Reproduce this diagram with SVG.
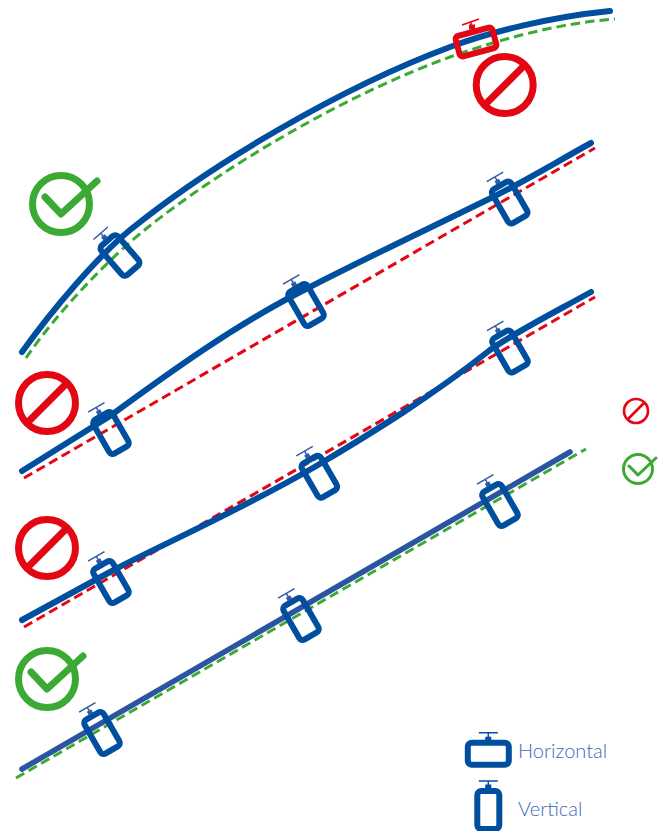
<svg xmlns="http://www.w3.org/2000/svg" width="668" height="831" viewBox="0 0 668 831">
<style>
.pipe{fill:none;stroke:#004f9f;stroke-width:6;stroke-linecap:round}
.pipe2{fill:none;stroke:#2b55a0;stroke-width:5.5;stroke-linecap:round}
.gd{fill:none;stroke:#3aaa35;stroke-width:3;stroke-dasharray:9.500 5}
.rd{fill:none;stroke:#e30613;stroke-width:3;stroke-dasharray:9.500 5}
.box{fill:none;stroke:#004f9f;stroke-width:6}
.hd{fill:#2f5aa5;stroke:#2f5aa5}
.hl{fill:#004f9f;stroke:#004f9f}
.red .box{stroke:#e30613;stroke-width:6}
.red .hd{fill:#e30613;stroke:#e30613}
.ban{fill:none;stroke:#e30613;stroke-width:7}
.ok{fill:none;stroke:#3aaa35;stroke-width:7;stroke-linecap:round;stroke-linejoin:round}
.smb{fill:none;stroke:#e30613;stroke-width:2.600}
.smo{fill:none;stroke:#3aaa35;stroke-width:3;stroke-linecap:round;stroke-linejoin:round}
text{font-family:Lato,"Liberation Sans",sans-serif;font-size:20px;font-weight:300;fill:#3f68b5}
</style>
<defs>
<g id="v"><rect class="box" x="-11" y="-19.500" width="22" height="39" rx="4"/><rect class="hd" x="-2" y="-25.500" width="4" height="3" stroke-width="1"/><path class="hd" d="M0-29.500V-22M-9.500-29.500H9.500" fill="none" stroke-width="1.500"/></g>
<g id="vL"><rect class="box" x="-11" y="-19" width="22" height="38" rx="4"/><rect class="hl" x="-2.500" y="-25" width="5" height="3" stroke-width="1"/><path class="hl" d="M0-29V-22M-9.500-29H9.500" fill="none" stroke-width="1.500"/></g>
<g id="hL"><rect class="box" x="-20.500" y="-11" width="41" height="22" rx="4"/><rect class="hl" x="-2.500" y="-16.500" width="5" height="3" stroke-width="1"/><path class="hl" d="M0-21V-14M-9.500-21H9.500" fill="none" stroke-width="1.500"/></g>
<g id="banI"><circle class="ban" r="28.500"/><path class="ban" d="M-19 19L19-19"/></g>
<g id="okI"><circle class="ok" r="28.500"/><path class="ok" d="M-16-7L0 10L36-23"/></g>
</defs>
<g id="connectors">
<path class="gd" d="M26 358C55 315 108 259 147 228C225 166 345 95 450 57C500 39 560 23 615 19"/>
<path class="pipe" d="M22 352C52 310 98 256 130 230C210 165 340 88 450 47C490 32 550 17 610 11"/>
<path class="rd" d="M24 478L595 148"/>
<path class="pipe" d="M22 471L110 416C170 372 235 325 306 289C366 258 430 228 493 197C527 180 560 160 591 143"/>
<path class="rd" d="M24 627L595 297"/>
<path class="pipe" d="M22 620L110 572C150 550 250 506 323 462C375 431 432 396 490 350C512 334 555 312 591 292"/>
<path class="gd" d="M16 778L586 449"/>
<path class="pipe2" d="M22 769L570 452"/>
</g>
<g id="valve1"><use href="#v" transform="translate(120 255.500) rotate(-41)"/></g>
<g id="valve2" class="red"><rect class="box" x="-19" y="-10.500" width="38" height="21" rx="3" transform="translate(476 42) rotate(-15)"/><rect class="hd" x="469.500" y="25" width="5" height="4" stroke-width="1"/><path class="hd" d="M462 25L479 19M471 22V28" fill="none" stroke-width="1.600"/></g>
<g id="valve3"><use href="#v" transform="translate(509.700 202.500) rotate(-30)"/></g>
<g id="valve4"><use href="#v" transform="translate(306 305) rotate(-30)"/></g>
<g id="valve5"><use href="#v" transform="translate(111 433) rotate(-30)"/></g>
<g id="valve6"><use href="#v" transform="translate(510 351.500) rotate(-30)"/></g>
<g id="valve7"><use href="#v" transform="translate(319.300 476.700) rotate(-30)"/></g>
<g id="valve8"><use href="#v" transform="translate(111 582) rotate(-30)"/></g>
<g id="valve9"><use href="#v" transform="translate(500 505) rotate(-30)"/></g>
<g id="valve10"><use href="#v" transform="translate(301 619) rotate(-30)"/></g>
<g id="valve11"><use href="#v" transform="translate(102 733) rotate(-30)"/></g>
<g id="ban1"><use href="#banI" x="504.700" y="85"/></g>
<g id="ban2"><use href="#banI" x="47" y="403"/></g>
<g id="ban3"><use href="#banI" x="47" y="548"/></g>
<g id="ok1"><use href="#okI" x="61" y="204"/></g>
<g id="ok2"><use href="#okI" x="47" y="679"/></g>
<g id="legend-ban"><circle class="smb" cx="636" cy="411" r="12"/><path class="smb" d="M628 419L644 403"/></g>
<g id="legend-ok"><circle class="smo" cx="638" cy="469" r="14.500"/><path class="smo" d="M629 466L638 475L656 458"/></g>
<g id="legend-h"><use href="#hL" transform="translate(488.300 753.700)"/><text x="518" y="758">Horizontal</text></g>
<g id="legend-v"><use href="#vL" transform="translate(488.300 810)"/><text x="518" y="816">Vertical</text></g>
</svg>
